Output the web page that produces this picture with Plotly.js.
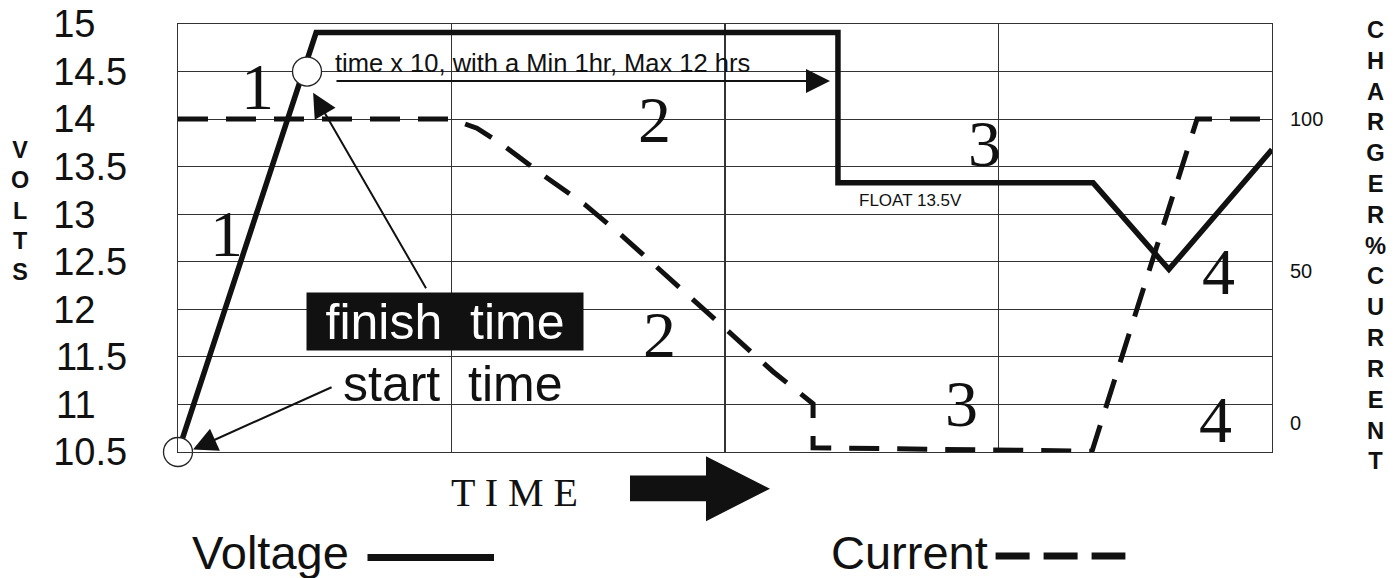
<!DOCTYPE html>
<html>
<head>
<meta charset="utf-8">
<script src="https://cdn.plot.ly/plotly-3.0.1.min.js"></script>
<style>html,body{margin:0;padding:0;background:#fff;}#chart{width:1399px;height:578px;}</style>
</head>
<body>
<div id="chart"></div>
<script>
// ---------- data ----------
const voltTime  = [0, 0.505, 2.413, 2.413, 3.346, 3.623, 4.0];
const voltValue = [10.5, 14.91, 14.91, 13.33, 13.33, 12.42, 13.68];

const currTime  = [0, 1.0, 1.093, 1.188, 1.335, 1.488, 1.627, 1.952, 2.176, 2.322, 2.322, 3.342, 3.726, 4.0];
const currValue = [100, 100, 97, 91.5, 81.6, 71.9, 61.4, 35.0, 17.0, 6.5, -8.0, -9.1, 100, 100];

const markerTime  = [0, 0.4717];
const markerValue = [10.5, 14.5];

const voltTicks = [10.5, 11, 11.5, 12, 12.5, 13, 13.5, 14, 14.5, 15];
const voltTickText = ["10.5", "11\u00a0\u00a0\u00a0", "11.5", "12\u00a0\u00a0\u00a0", "12.5", "13\u00a0\u00a0\u00a0", "13.5", "14\u00a0\u00a0\u00a0", "14.5", "15\u00a0\u00a0\u00a0"];
const currTicks = [0, 50, 100];
const currTickText = ["0", "50", "100"];

const stageLabels = ["1", "1", "2", "2", "3", "3", "4", "4"];
const stageX = [0.291, 0.1755, 1.744, 1.762, 2.947, 2.866, 3.806, 3.795];
const stageY = [14.339, 12.795, 13.992, 11.74, 13.746, 11.01, 12.396, 10.842];

// ---------- layout helpers (pixel -> paper) ----------
const L = 178, R = 1272, T = 24.1, B = 452.5;
const px = x => (x - L) / (R - L);
const py = y => (B - y) / (B - T);

const SANS = "Liberation Sans, Arial, sans-serif";
const SERIF = "Liberation Serif, Times New Roman, serif";

const traces = [
  {x: voltTime, y: voltValue, type: "scatter", mode: "lines", name: "Voltage",
   line: {color: "#111", width: 5.5}, showlegend: false, hoverinfo: "skip"},
  {x: currTime, y: currValue, type: "scatter", mode: "lines", name: "Current", yaxis: "y2",
   line: {color: "#111", width: 5, dash: "30px,18px"}, showlegend: false, hoverinfo: "skip"},
  {x: markerTime, y: markerValue, type: "scatter", mode: "markers", cliponaxis: false,
   marker: {size: 29, color: "#fff", line: {color: "#222", width: 1.3}}, showlegend: false, hoverinfo: "skip"}
];

const annotations = [];
stageLabels.forEach((t, i) => annotations.push({
  x: stageX[i], y: stageY[i], xref: "x", yref: "y", text: t, showarrow: false,
  font: {family: SERIF, size: 66, color: "#111"}, xanchor: "center", yanchor: "middle"
}));

// arrows
const arrowStyle = {text: "", showarrow: true, arrowhead: 2, arrowsize: 2.4, arrowwidth: 2, arrowcolor: "#111", standoff: 0,
  xref: "x", yref: "y", axref: "x", ayref: "y"};
annotations.push(Object.assign({x: 0.055, y: 10.526, ax: 0.567, ay: 11.188}, arrowStyle));
annotations.push(Object.assign({x: 0.494, y: 14.276, ax: 0.910, ay: 12.207}, arrowStyle));
annotations.push(Object.assign({x: 2.384, y: 14.402, ax: 0.574, ay: 14.402}, arrowStyle));

// texts in plot
annotations.push({x: 0.567, y: 14.59, xref: "x", yref: "y", text: "time x 10, with a Min 1hr, Max 12 hrs",
  showarrow: false, xanchor: "left", yanchor: "middle", font: {family: SANS, size: 25.5, color: "#111"}});
annotations.push({x: 2.680, y: 13.14, xref: "x", yref: "y", text: "FLOAT 13.5V",
  showarrow: false, xanchor: "center", yanchor: "middle", font: {family: SANS, size: 17, color: "#111"}});
annotations.push({x: 0.975, y: 11.876, xref: "x", yref: "y", text: "finish\u00a0 time",
  showarrow: false, xanchor: "center", yanchor: "middle", width: 276, height: 57, bgcolor: "#111", borderpad: 0,
  font: {family: SANS, size: 50, color: "#fff"}});
annotations.push({x: 1.004, y: 11.22, xref: "x", yref: "y", text: "start\u00a0 time",
  showarrow: false, xanchor: "center", yanchor: "middle",
  font: {family: SANS, size: 50, color: "#111"}});

// axis titles (stacked letters)
annotations.push({x: px(20), y: py(211), xref: "paper", yref: "paper", text: "V<br>O<br>L<br>T<br>S",
  showarrow: false, xanchor: "center", yanchor: "middle", font: {family: SANS, size: 23.4, color: "#111", weight: "bold"}});
annotations.push({x: px(1375), y: py(246), xref: "paper", yref: "paper",
  text: "CHARGER%CURRENT".split("").join("<br>"),
  showarrow: false, xanchor: "center", yanchor: "middle", font: {family: SANS, size: 23.7, color: "#111", weight: "bold"}});

// TIME + legend texts
annotations.push({x: px(514.5), y: py(493), xref: "paper", yref: "paper", text: "T I M E",
  showarrow: false, xanchor: "center", yanchor: "middle", font: {family: SERIF, size: 40, color: "#111"}});
annotations.push({x: px(190), y: py(553), xref: "paper", yref: "paper", text: "Voltage",
  showarrow: false, xanchor: "left", yanchor: "middle", font: {family: SANS, size: 47, color: "#111"}});
annotations.push({x: px(829), y: py(553), xref: "paper", yref: "paper", text: "Current",
  showarrow: false, xanchor: "left", yanchor: "middle", font: {family: SANS, size: 47, color: "#111"}});

const shapes = [
  {type: "path", xref: "paper", yref: "paper",
   path: `M ${px(630)} ${py(476)} L ${px(706)} ${py(476)} L ${px(706)} ${py(456.7)} L ${px(770)} ${py(489.3)} L ${px(706)} ${py(521.7)} L ${px(706)} ${py(501.7)} L ${px(630)} ${py(501.7)} Z`,
   fillcolor: "#111", line: {width: 0}},
  {type: "line", xref: "paper", yref: "paper", x0: px(367.5), x1: px(494), y0: py(558), y1: py(558),
   line: {color: "#111", width: 7}},
  {type: "line", xref: "paper", yref: "paper", x0: px(995.6), x1: px(1125.4), y0: py(556.7), y1: py(556.7),
   line: {color: "#111", width: 7, dash: "34px,14px"}}
];

const layout = {
  width: 1399, height: 578,
  margin: {l: 178, r: 127, t: 24, b: 126, pad: 0},
  paper_bgcolor: "#fff", plot_bgcolor: "#fff",
  showlegend: false,
  xaxis: {range: [0, 4], dtick: 1, tick0: 0, showticklabels: false, ticks: "",
          showgrid: true, gridcolor: "#333", gridwidth: 1.2, zeroline: false,
          showline: true, linecolor: "#333", linewidth: 1.2, mirror: true, fixedrange: true},
  yaxis: {range: [10.5, 15], tickmode: "array", tickvals: voltTicks, ticktext: voltTickText,
          ticks: "outside", ticklen: 42, tickcolor: "rgba(0,0,0,0)",
          tickfont: {family: SANS, size: 38, color: "#111"},
          showgrid: true, gridcolor: "#333", gridwidth: 1.2, zeroline: false,
          showline: true, linecolor: "#333", linewidth: 1.2, mirror: true, fixedrange: true},
  yaxis2: {range: [-9.375, 131.25], overlaying: "y", side: "right", tickmode: "array",
           tickvals: currTicks, ticktext: currTickText,
           ticks: "outside", ticklen: 13, tickcolor: "rgba(0,0,0,0)",
           tickfont: {family: SANS, size: 20, color: "#111"},
           showgrid: false, zeroline: false, showline: false, fixedrange: true},
  annotations: annotations,
  shapes: shapes
};

Plotly.newPlot("chart", traces, layout, {staticPlot: true, displayModeBar: false});
</script>
</body>
</html>
